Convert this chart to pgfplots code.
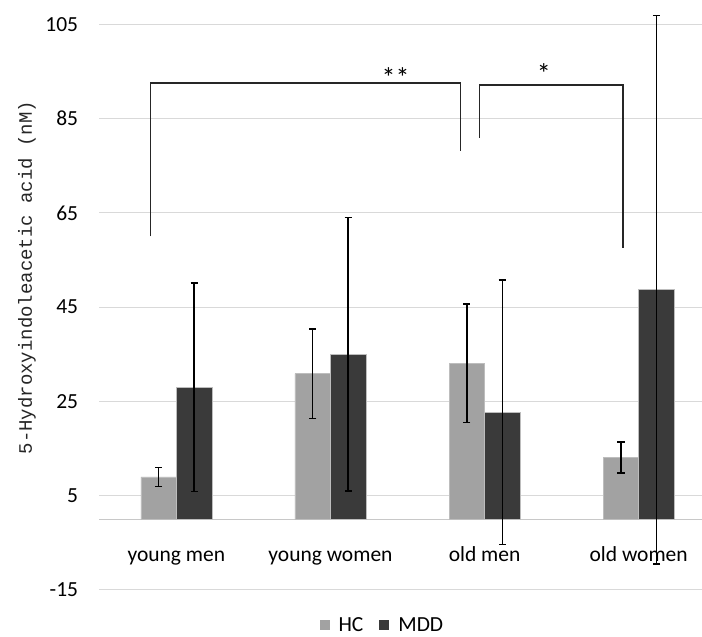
\documentclass[border=0pt]{standalone}
\usepackage{fontspec}
\setmainfont{Carlito}
\newfontfamily\labelfont{Liberation Mono}
\usepackage{pgfplots}
\pgfplotsset{compat=1.18}
\definecolor{hcgray}{HTML}{A2A2A2}
\definecolor{mddgray}{HTML}{3A3A3A}
\definecolor{edge}{HTML}{BDBDBD}
\definecolor{gridgray}{HTML}{D9D9D9}
\definecolor{axgray}{HTML}{C8C8C8}
\definecolor{brk}{HTML}{262626}

\begin{document}
\begin{tikzpicture}
\begin{axis}[
  name=ax,
  scale only axis,
  width=602.7pt, height=565.7pt,
  xmin=-0.5, xmax=3.411,
  ymin=-15, ymax=105,
  clip=false,
  ybar=0pt, bar width=35.5pt,
  ytick={-15,5,25,45,65,85,105},
  yticklabels={-15,5,25,45,65,85,105},
  xtick={0,1,2,3},
  xticklabels={young men,young women,old men,old women},
  axis x line=middle, axis y line=left,
  axis line style={-},
  every inner x axis line/.append style={-},
  x axis line style={draw=axgray, line width=1pt},
  y axis line style={draw=none},
  major tick length=0pt,
  tick style={draw=none},
  ymajorgrids, xmajorgrids=false,
  grid style={draw=gridgray, line width=1pt},
  ticklabel style={font=\fontsize{21.5}{25}\selectfont, text=black},
  yticklabel style={anchor=east, inner sep=0pt, xshift=-21pt},
  xticklabel style={anchor=base, yshift=-42.7pt},
  ylabel={5-Hydroxyindoleacetic acid (nM)},
  ylabel style={at={(rel axis cs:-0.112,0.5524)}, anchor=base, rotate=0,
    font=\fontsize{19}{23}\labelfont, text=black!85},
  legend style={at={(0.468,-0.062)}, anchor=center, draw=none, fill=none,
    legend columns=2, font=\fontsize{21.5}{25}\selectfont,
    nodes={inner sep=0pt},
    /tikz/every even column/.append style={column sep=16pt}},
  legend image code/.code={\fill[#1, draw=none] (0pt,-5pt) rectangle (10pt,5pt);
    \path[draw=none, fill=none] (0pt,0pt) -- (19pt,0pt);},
  error bars/error bar style={black, line width=1.5pt},
  error bars/error mark options={black, line width=1.5pt, mark size=3.6pt, rotate=90},
]
% HC
\addplot[fill=hcgray, draw=edge, line width=0.7pt, error bars/.cd, y dir=both, y explicit]
  coordinates {(0,9.0) +- (0,2.0) (1,30.9) +- (0,9.5) (2,33.1) +- (0,12.6) (3,13.1) +- (0,3.3)};
% MDD
\addplot[fill=mddgray, draw=edge, line width=0.7pt, error bars/.cd, y dir=both, y explicit]
  coordinates {(0,28.0) +- (0,22.1) (1,35.0) +- (0,29.0) (2,22.7) +- (0,28.1) (3,48.7) +- (0,58.2)};
\legend{HC, MDD}

\draw[brk, line width=1.5pt] (axis cs:-0.169,60.0) -- (axis cs:-0.169,92.56)
  -- (axis cs:1.845,92.56) -- (axis cs:1.845,78.1);
\draw[brk, line width=1.5pt] (axis cs:1.968,80.9) -- (axis cs:1.968,92.13)
  -- (axis cs:2.898,92.13) -- (axis cs:2.898,57.5);
\node[anchor=center, inner sep=0pt, font=\fontsize{28}{32}\selectfont] at (axis cs:1.423,93.8) {**};
\node[anchor=center, inner sep=0pt, font=\fontsize{28}{32}\selectfont] at (axis cs:2.385,94.5) {*};
\end{axis}
\pgfresetboundingbox
\path[use as bounding box] ([shift={(-99.3pt,-47pt)}]ax.south west) rectangle ++(702pt,637pt);
\end{tikzpicture}
\end{document}
